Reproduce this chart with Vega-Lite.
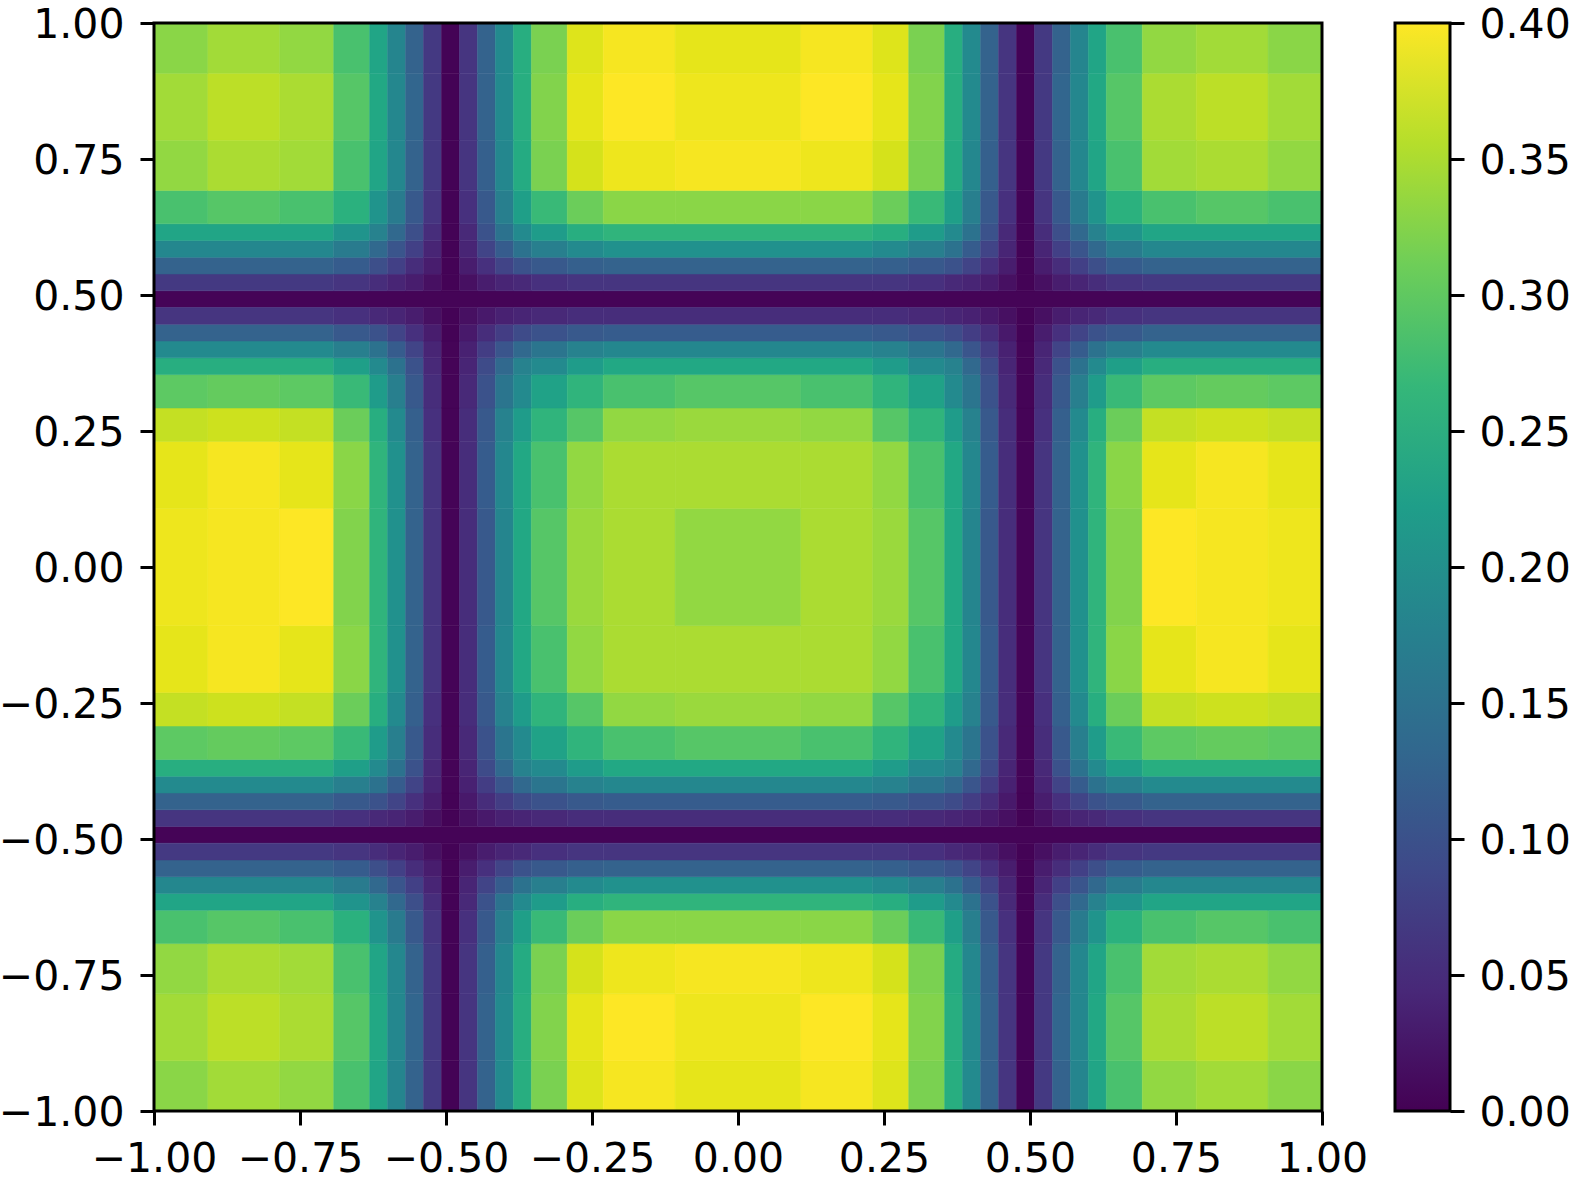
{"$schema":"https://vega.github.io/schema/vega-lite/v6.json","background":"white","padding":{"left":-2,"top":4,"right":0,"bottom":0},"bounds":"flush","spacing":73,"config":{"view":{"stroke":null},"axis":{"domain":false,"grid":false,"ticks":true,"tickColor":"black","tickWidth":3,"tickSize":14,"labelColor":"black","labelFont":"DejaVu Sans","labelFontSize":41,"labelOverlap":false,"labelFlush":false,"labelBound":false,"title":null}},"datasets":{"g":[{"c":1,"x0":-1,"x1":-0.9077},{"c":2,"x0":-0.9077,"x1":-0.7846},{"c":3,"x0":-0.7846,"x1":-0.6923},{"c":4,"x0":-0.6923,"x1":-0.6308},{"c":5,"x0":-0.6308,"x1":-0.6},{"c":6,"x0":-0.6,"x1":-0.5692},{"c":7,"x0":-0.5692,"x1":-0.5385},{"c":8,"x0":-0.5385,"x1":-0.5077},{"c":9,"x0":-0.5077,"x1":-0.4769},{"c":10,"x0":-0.4769,"x1":-0.4462},{"c":11,"x0":-0.4462,"x1":-0.4154},{"c":12,"x0":-0.4154,"x1":-0.3846},{"c":13,"x0":-0.3846,"x1":-0.3538},{"c":14,"x0":-0.3538,"x1":-0.2923},{"c":15,"x0":-0.2923,"x1":-0.2308},{"c":16,"x0":-0.2308,"x1":-0.1077},{"c":17,"x0":-0.1077,"x1":0.1077},{"c":18,"x0":0.1077,"x1":0.2308},{"c":19,"x0":0.2308,"x1":0.2923},{"c":20,"x0":0.2923,"x1":0.3538},{"c":21,"x0":0.3538,"x1":0.3846},{"c":22,"x0":0.3846,"x1":0.4154},{"c":23,"x0":0.4154,"x1":0.4462},{"c":24,"x0":0.4462,"x1":0.4769},{"c":25,"x0":0.4769,"x1":0.5077},{"c":26,"x0":0.5077,"x1":0.5385},{"c":27,"x0":0.5385,"x1":0.5692},{"c":28,"x0":0.5692,"x1":0.6},{"c":29,"x0":0.6,"x1":0.6308},{"c":30,"x0":0.6308,"x1":0.6923},{"c":31,"x0":0.6923,"x1":0.7846},{"c":32,"x0":0.7846,"x1":0.9077},{"c":33,"x0":0.9077,"x1":1},{"c":34,"x0":-1,"x1":1},{"c":35,"x0":-1,"x1":-0.6923},{"c":36,"x0":0.6923,"x1":1},{"c":37,"x0":-0.2308,"x1":0.2308}],"d":[
{"c":34,"r":9,"v":0.003},{"c":34,"r":25,"v":0.003},
{"c":1,"r":1,"v":0.33},{"c":2,"r":1,"v":0.345},{"c":3,"r":1,"v":0.335},{"c":4,"r":1,"v":0.285},{"c":5,"r":1,"v":0.235},{"c":6,"r":1,"v":0.18},{"c":7,"r":1,"v":0.125},{"c":8,"r":1,"v":0.065},{"c":9,"r":1,"v":0.002},{"c":10,"r":1,"v":0.06},{"c":11,"r":1,"v":0.125},{"c":12,"r":1,"v":0.19},{"c":13,"r":1,"v":0.25},{"c":14,"r":1,"v":0.32},{"c":15,"r":1,"v":0.38},{"c":16,"r":1,"v":0.395},{"c":17,"r":1,"v":0.385},{"c":18,"r":1,"v":0.395},{"c":19,"r":1,"v":0.38},{"c":20,"r":1,"v":0.32},{"c":21,"r":1,"v":0.25},{"c":22,"r":1,"v":0.19},{"c":23,"r":1,"v":0.125},{"c":24,"r":1,"v":0.06},{"c":25,"r":1,"v":0.002},{"c":26,"r":1,"v":0.065},{"c":27,"r":1,"v":0.125},{"c":28,"r":1,"v":0.18},{"c":29,"r":1,"v":0.235},{"c":30,"r":1,"v":0.285},{"c":31,"r":1,"v":0.335},{"c":32,"r":1,"v":0.345},{"c":33,"r":1,"v":0.33},
{"c":1,"r":2,"v":0.345},{"c":2,"r":2,"v":0.36},{"c":3,"r":2,"v":0.35},{"c":4,"r":2,"v":0.295},{"c":5,"r":2,"v":0.24},{"c":6,"r":2,"v":0.185},{"c":7,"r":2,"v":0.13},{"c":8,"r":2,"v":0.065},{"c":9,"r":2,"v":0.002},{"c":10,"r":2,"v":0.06},{"c":11,"r":2,"v":0.125},{"c":12,"r":2,"v":0.19},{"c":13,"r":2,"v":0.25},{"c":14,"r":2,"v":0.325},{"c":15,"r":2,"v":0.385},{"c":16,"r":2,"v":0.4},{"c":17,"r":2,"v":0.39},{"c":18,"r":2,"v":0.4},{"c":19,"r":2,"v":0.385},{"c":20,"r":2,"v":0.325},{"c":21,"r":2,"v":0.25},{"c":22,"r":2,"v":0.19},{"c":23,"r":2,"v":0.125},{"c":24,"r":2,"v":0.06},{"c":25,"r":2,"v":0.002},{"c":26,"r":2,"v":0.065},{"c":27,"r":2,"v":0.13},{"c":28,"r":2,"v":0.185},{"c":29,"r":2,"v":0.24},{"c":30,"r":2,"v":0.295},{"c":31,"r":2,"v":0.35},{"c":32,"r":2,"v":0.36},{"c":33,"r":2,"v":0.345},
{"c":1,"r":3,"v":0.335},{"c":2,"r":3,"v":0.35},{"c":3,"r":3,"v":0.345},{"c":4,"r":3,"v":0.285},{"c":5,"r":3,"v":0.235},{"c":6,"r":3,"v":0.185},{"c":7,"r":3,"v":0.125},{"c":8,"r":3,"v":0.065},{"c":9,"r":3,"v":0.002},{"c":10,"r":3,"v":0.06},{"c":11,"r":3,"v":0.12},{"c":12,"r":3,"v":0.185},{"c":13,"r":3,"v":0.245},{"c":14,"r":3,"v":0.32},{"c":15,"r":3,"v":0.375},{"c":16,"r":3,"v":0.39},{"c":17,"r":3,"v":0.395},{"c":18,"r":3,"v":0.39},{"c":19,"r":3,"v":0.375},{"c":20,"r":3,"v":0.32},{"c":21,"r":3,"v":0.245},{"c":22,"r":3,"v":0.185},{"c":23,"r":3,"v":0.12},{"c":24,"r":3,"v":0.06},{"c":25,"r":3,"v":0.002},{"c":26,"r":3,"v":0.065},{"c":27,"r":3,"v":0.125},{"c":28,"r":3,"v":0.185},{"c":29,"r":3,"v":0.235},{"c":30,"r":3,"v":0.285},{"c":31,"r":3,"v":0.345},{"c":32,"r":3,"v":0.35},{"c":33,"r":3,"v":0.335},
{"c":1,"r":4,"v":0.285},{"c":2,"r":4,"v":0.295},{"c":3,"r":4,"v":0.285},{"c":4,"r":4,"v":0.255},{"c":5,"r":4,"v":0.205},{"c":6,"r":4,"v":0.165},{"c":7,"r":4,"v":0.11},{"c":8,"r":4,"v":0.06},{"c":9,"r":4,"v":0.002},{"c":10,"r":4,"v":0.055},{"c":11,"r":4,"v":0.11},{"c":12,"r":4,"v":0.17},{"c":13,"r":4,"v":0.225},{"c":14,"r":4,"v":0.27},{"c":15,"r":4,"v":0.31},{"c":16,"r":4,"v":0.33},{"c":17,"r":4,"v":0.33},{"c":18,"r":4,"v":0.33},{"c":19,"r":4,"v":0.31},{"c":20,"r":4,"v":0.27},{"c":21,"r":4,"v":0.225},{"c":22,"r":4,"v":0.17},{"c":23,"r":4,"v":0.11},{"c":24,"r":4,"v":0.055},{"c":25,"r":4,"v":0.002},{"c":26,"r":4,"v":0.06},{"c":27,"r":4,"v":0.11},{"c":28,"r":4,"v":0.165},{"c":29,"r":4,"v":0.205},{"c":30,"r":4,"v":0.255},{"c":31,"r":4,"v":0.285},{"c":32,"r":4,"v":0.295},{"c":33,"r":4,"v":0.285},
{"c":35,"r":5,"v":0.235},{"c":4,"r":5,"v":0.205},{"c":5,"r":5,"v":0.175},{"c":6,"r":5,"v":0.135},{"c":7,"r":5,"v":0.095},{"c":8,"r":5,"v":0.05},{"c":9,"r":5,"v":0.002},{"c":10,"r":5,"v":0.045},{"c":11,"r":5,"v":0.1},{"c":12,"r":5,"v":0.15},{"c":13,"r":5,"v":0.19},{"c":14,"r":5,"v":0.22},{"c":15,"r":5,"v":0.25},{"c":37,"r":5,"v":0.26},{"c":19,"r":5,"v":0.25},{"c":20,"r":5,"v":0.22},{"c":21,"r":5,"v":0.19},{"c":22,"r":5,"v":0.15},{"c":23,"r":5,"v":0.1},{"c":24,"r":5,"v":0.045},{"c":25,"r":5,"v":0.002},{"c":26,"r":5,"v":0.05},{"c":27,"r":5,"v":0.095},{"c":28,"r":5,"v":0.135},{"c":29,"r":5,"v":0.175},{"c":30,"r":5,"v":0.205},{"c":36,"r":5,"v":0.235},
{"c":35,"r":6,"v":0.185},{"c":4,"r":6,"v":0.165},{"c":5,"r":6,"v":0.135},{"c":6,"r":6,"v":0.105},{"c":7,"r":6,"v":0.075},{"c":8,"r":6,"v":0.04},{"c":9,"r":6,"v":0.002},{"c":10,"r":6,"v":0.04},{"c":11,"r":6,"v":0.08},{"c":12,"r":6,"v":0.115},{"c":13,"r":6,"v":0.15},{"c":14,"r":6,"v":0.17},{"c":15,"r":6,"v":0.19},{"c":37,"r":6,"v":0.2},{"c":19,"r":6,"v":0.19},{"c":20,"r":6,"v":0.17},{"c":21,"r":6,"v":0.15},{"c":22,"r":6,"v":0.115},{"c":23,"r":6,"v":0.08},{"c":24,"r":6,"v":0.04},{"c":25,"r":6,"v":0.002},{"c":26,"r":6,"v":0.04},{"c":27,"r":6,"v":0.075},{"c":28,"r":6,"v":0.105},{"c":29,"r":6,"v":0.135},{"c":30,"r":6,"v":0.165},{"c":36,"r":6,"v":0.185},
{"c":35,"r":7,"v":0.125},{"c":4,"r":7,"v":0.115},{"c":5,"r":7,"v":0.095},{"c":6,"r":7,"v":0.075},{"c":7,"r":7,"v":0.05},{"c":8,"r":7,"v":0.03},{"c":9,"r":7,"v":0.002},{"c":10,"r":7,"v":0.03},{"c":11,"r":7,"v":0.055},{"c":12,"r":7,"v":0.08},{"c":13,"r":7,"v":0.1},{"c":14,"r":7,"v":0.11},{"c":15,"r":7,"v":0.12},{"c":37,"r":7,"v":0.125},{"c":19,"r":7,"v":0.12},{"c":20,"r":7,"v":0.11},{"c":21,"r":7,"v":0.1},{"c":22,"r":7,"v":0.08},{"c":23,"r":7,"v":0.055},{"c":24,"r":7,"v":0.03},{"c":25,"r":7,"v":0.002},{"c":26,"r":7,"v":0.03},{"c":27,"r":7,"v":0.05},{"c":28,"r":7,"v":0.075},{"c":29,"r":7,"v":0.095},{"c":30,"r":7,"v":0.115},{"c":36,"r":7,"v":0.125},
{"c":35,"r":8,"v":0.065},{"c":4,"r":8,"v":0.06},{"c":5,"r":8,"v":0.05},{"c":6,"r":8,"v":0.04},{"c":7,"r":8,"v":0.03},{"c":8,"r":8,"v":0.015},{"c":9,"r":8,"v":0.002},{"c":10,"r":8,"v":0.015},{"c":11,"r":8,"v":0.03},{"c":12,"r":8,"v":0.04},{"c":13,"r":8,"v":0.045},{"c":14,"r":8,"v":0.055},{"c":15,"r":8,"v":0.06},{"c":37,"r":8,"v":0.06},{"c":19,"r":8,"v":0.06},{"c":20,"r":8,"v":0.055},{"c":21,"r":8,"v":0.045},{"c":22,"r":8,"v":0.04},{"c":23,"r":8,"v":0.03},{"c":24,"r":8,"v":0.015},{"c":25,"r":8,"v":0.002},{"c":26,"r":8,"v":0.015},{"c":27,"r":8,"v":0.03},{"c":28,"r":8,"v":0.04},{"c":29,"r":8,"v":0.05},{"c":30,"r":8,"v":0.06},{"c":36,"r":8,"v":0.065},
{"c":35,"r":10,"v":0.06},{"c":4,"r":10,"v":0.055},{"c":5,"r":10,"v":0.045},{"c":6,"r":10,"v":0.04},{"c":7,"r":10,"v":0.03},{"c":8,"r":10,"v":0.015},{"c":9,"r":10,"v":0.002},{"c":10,"r":10,"v":0.015},{"c":11,"r":10,"v":0.025},{"c":12,"r":10,"v":0.035},{"c":13,"r":10,"v":0.04},{"c":14,"r":10,"v":0.045},{"c":15,"r":10,"v":0.05},{"c":37,"r":10,"v":0.05},{"c":19,"r":10,"v":0.05},{"c":20,"r":10,"v":0.045},{"c":21,"r":10,"v":0.04},{"c":22,"r":10,"v":0.035},{"c":23,"r":10,"v":0.025},{"c":24,"r":10,"v":0.015},{"c":25,"r":10,"v":0.002},{"c":26,"r":10,"v":0.015},{"c":27,"r":10,"v":0.03},{"c":28,"r":10,"v":0.04},{"c":29,"r":10,"v":0.045},{"c":30,"r":10,"v":0.055},{"c":36,"r":10,"v":0.06},
{"c":35,"r":11,"v":0.125},{"c":4,"r":11,"v":0.11},{"c":5,"r":11,"v":0.1},{"c":6,"r":11,"v":0.08},{"c":7,"r":11,"v":0.055},{"c":8,"r":11,"v":0.03},{"c":9,"r":11,"v":0.002},{"c":10,"r":11,"v":0.025},{"c":11,"r":11,"v":0.05},{"c":12,"r":11,"v":0.07},{"c":13,"r":11,"v":0.09},{"c":14,"r":11,"v":0.1},{"c":15,"r":11,"v":0.11},{"c":37,"r":11,"v":0.115},{"c":19,"r":11,"v":0.11},{"c":20,"r":11,"v":0.1},{"c":21,"r":11,"v":0.09},{"c":22,"r":11,"v":0.07},{"c":23,"r":11,"v":0.05},{"c":24,"r":11,"v":0.025},{"c":25,"r":11,"v":0.002},{"c":26,"r":11,"v":0.03},{"c":27,"r":11,"v":0.055},{"c":28,"r":11,"v":0.08},{"c":29,"r":11,"v":0.1},{"c":30,"r":11,"v":0.11},{"c":36,"r":11,"v":0.125},
{"c":35,"r":12,"v":0.19},{"c":4,"r":12,"v":0.17},{"c":5,"r":12,"v":0.15},{"c":6,"r":12,"v":0.115},{"c":7,"r":12,"v":0.08},{"c":8,"r":12,"v":0.04},{"c":9,"r":12,"v":0.003},{"c":10,"r":12,"v":0.035},{"c":11,"r":12,"v":0.07},{"c":12,"r":12,"v":0.105},{"c":13,"r":12,"v":0.135},{"c":14,"r":12,"v":0.155},{"c":15,"r":12,"v":0.175},{"c":37,"r":12,"v":0.185},{"c":19,"r":12,"v":0.175},{"c":20,"r":12,"v":0.155},{"c":21,"r":12,"v":0.135},{"c":22,"r":12,"v":0.105},{"c":23,"r":12,"v":0.07},{"c":24,"r":12,"v":0.035},{"c":25,"r":12,"v":0.003},{"c":26,"r":12,"v":0.04},{"c":27,"r":12,"v":0.08},{"c":28,"r":12,"v":0.115},{"c":29,"r":12,"v":0.15},{"c":30,"r":12,"v":0.17},{"c":36,"r":12,"v":0.19},
{"c":35,"r":13,"v":0.25},{"c":4,"r":13,"v":0.225},{"c":5,"r":13,"v":0.19},{"c":6,"r":13,"v":0.15},{"c":7,"r":13,"v":0.1},{"c":8,"r":13,"v":0.045},{"c":9,"r":13,"v":0.003},{"c":10,"r":13,"v":0.04},{"c":11,"r":13,"v":0.09},{"c":12,"r":13,"v":0.135},{"c":13,"r":13,"v":0.175},{"c":14,"r":13,"v":0.19},{"c":15,"r":13,"v":0.22},{"c":37,"r":13,"v":0.24},{"c":19,"r":13,"v":0.22},{"c":20,"r":13,"v":0.19},{"c":21,"r":13,"v":0.175},{"c":22,"r":13,"v":0.135},{"c":23,"r":13,"v":0.09},{"c":24,"r":13,"v":0.04},{"c":25,"r":13,"v":0.003},{"c":26,"r":13,"v":0.045},{"c":27,"r":13,"v":0.1},{"c":28,"r":13,"v":0.15},{"c":29,"r":13,"v":0.19},{"c":30,"r":13,"v":0.225},{"c":36,"r":13,"v":0.25},
{"c":1,"r":14,"v":0.3},{"c":2,"r":14,"v":0.305},{"c":3,"r":14,"v":0.3},{"c":4,"r":14,"v":0.27},{"c":5,"r":14,"v":0.22},{"c":6,"r":14,"v":0.17},{"c":7,"r":14,"v":0.11},{"c":8,"r":14,"v":0.05},{"c":9,"r":14,"v":0.003},{"c":10,"r":14,"v":0.045},{"c":11,"r":14,"v":0.1},{"c":12,"r":14,"v":0.155},{"c":13,"r":14,"v":0.19},{"c":14,"r":14,"v":0.23},{"c":15,"r":14,"v":0.26},{"c":16,"r":14,"v":0.285},{"c":17,"r":14,"v":0.295},{"c":18,"r":14,"v":0.285},{"c":19,"r":14,"v":0.26},{"c":20,"r":14,"v":0.23},{"c":21,"r":14,"v":0.19},{"c":22,"r":14,"v":0.155},{"c":23,"r":14,"v":0.1},{"c":24,"r":14,"v":0.045},{"c":25,"r":14,"v":0.003},{"c":26,"r":14,"v":0.05},{"c":27,"r":14,"v":0.11},{"c":28,"r":14,"v":0.17},{"c":29,"r":14,"v":0.22},{"c":30,"r":14,"v":0.27},{"c":31,"r":14,"v":0.3},{"c":32,"r":14,"v":0.305},{"c":33,"r":14,"v":0.3},
{"c":1,"r":15,"v":0.365},{"c":2,"r":15,"v":0.37},{"c":3,"r":15,"v":0.365},{"c":4,"r":15,"v":0.31},{"c":5,"r":15,"v":0.25},{"c":6,"r":15,"v":0.19},{"c":7,"r":15,"v":0.12},{"c":8,"r":15,"v":0.055},{"c":9,"r":15,"v":0.003},{"c":10,"r":15,"v":0.05},{"c":11,"r":15,"v":0.11},{"c":12,"r":15,"v":0.175},{"c":13,"r":15,"v":0.22},{"c":14,"r":15,"v":0.26},{"c":15,"r":15,"v":0.295},{"c":16,"r":15,"v":0.335},{"c":17,"r":15,"v":0.34},{"c":18,"r":15,"v":0.335},{"c":19,"r":15,"v":0.295},{"c":20,"r":15,"v":0.26},{"c":21,"r":15,"v":0.22},{"c":22,"r":15,"v":0.175},{"c":23,"r":15,"v":0.11},{"c":24,"r":15,"v":0.05},{"c":25,"r":15,"v":0.003},{"c":26,"r":15,"v":0.055},{"c":27,"r":15,"v":0.12},{"c":28,"r":15,"v":0.19},{"c":29,"r":15,"v":0.25},{"c":30,"r":15,"v":0.31},{"c":31,"r":15,"v":0.365},{"c":32,"r":15,"v":0.37},{"c":33,"r":15,"v":0.365},
{"c":1,"r":16,"v":0.385},{"c":2,"r":16,"v":0.395},{"c":3,"r":16,"v":0.385},{"c":4,"r":16,"v":0.33},{"c":5,"r":16,"v":0.26},{"c":6,"r":16,"v":0.2},{"c":7,"r":16,"v":0.125},{"c":8,"r":16,"v":0.06},{"c":9,"r":16,"v":0.003},{"c":10,"r":16,"v":0.05},{"c":11,"r":16,"v":0.115},{"c":12,"r":16,"v":0.185},{"c":13,"r":16,"v":0.24},{"c":14,"r":16,"v":0.285},{"c":15,"r":16,"v":0.335},{"c":16,"r":16,"v":0.35},{"c":17,"r":16,"v":0.35},{"c":18,"r":16,"v":0.35},{"c":19,"r":16,"v":0.335},{"c":20,"r":16,"v":0.285},{"c":21,"r":16,"v":0.24},{"c":22,"r":16,"v":0.185},{"c":23,"r":16,"v":0.115},{"c":24,"r":16,"v":0.05},{"c":25,"r":16,"v":0.003},{"c":26,"r":16,"v":0.06},{"c":27,"r":16,"v":0.125},{"c":28,"r":16,"v":0.2},{"c":29,"r":16,"v":0.26},{"c":30,"r":16,"v":0.33},{"c":31,"r":16,"v":0.385},{"c":32,"r":16,"v":0.395},{"c":33,"r":16,"v":0.385},
{"c":1,"r":17,"v":0.39},{"c":2,"r":17,"v":0.395},{"c":3,"r":17,"v":0.4},{"c":4,"r":17,"v":0.325},{"c":5,"r":17,"v":0.26},{"c":6,"r":17,"v":0.2},{"c":7,"r":17,"v":0.125},{"c":8,"r":17,"v":0.06},{"c":9,"r":17,"v":0.003},{"c":10,"r":17,"v":0.05},{"c":11,"r":17,"v":0.11},{"c":12,"r":17,"v":0.18},{"c":13,"r":17,"v":0.24},{"c":14,"r":17,"v":0.295},{"c":15,"r":17,"v":0.34},{"c":16,"r":17,"v":0.35},{"c":17,"r":17,"v":0.335},{"c":18,"r":17,"v":0.35},{"c":19,"r":17,"v":0.34},{"c":20,"r":17,"v":0.295},{"c":21,"r":17,"v":0.24},{"c":22,"r":17,"v":0.18},{"c":23,"r":17,"v":0.11},{"c":24,"r":17,"v":0.05},{"c":25,"r":17,"v":0.003},{"c":26,"r":17,"v":0.06},{"c":27,"r":17,"v":0.125},{"c":28,"r":17,"v":0.2},{"c":29,"r":17,"v":0.26},{"c":30,"r":17,"v":0.325},{"c":31,"r":17,"v":0.4},{"c":32,"r":17,"v":0.395},{"c":33,"r":17,"v":0.39},
{"c":1,"r":18,"v":0.385},{"c":2,"r":18,"v":0.395},{"c":3,"r":18,"v":0.385},{"c":4,"r":18,"v":0.33},{"c":5,"r":18,"v":0.26},{"c":6,"r":18,"v":0.2},{"c":7,"r":18,"v":0.125},{"c":8,"r":18,"v":0.06},{"c":9,"r":18,"v":0.003},{"c":10,"r":18,"v":0.05},{"c":11,"r":18,"v":0.115},{"c":12,"r":18,"v":0.185},{"c":13,"r":18,"v":0.24},{"c":14,"r":18,"v":0.285},{"c":15,"r":18,"v":0.335},{"c":16,"r":18,"v":0.35},{"c":17,"r":18,"v":0.35},{"c":18,"r":18,"v":0.35},{"c":19,"r":18,"v":0.335},{"c":20,"r":18,"v":0.285},{"c":21,"r":18,"v":0.24},{"c":22,"r":18,"v":0.185},{"c":23,"r":18,"v":0.115},{"c":24,"r":18,"v":0.05},{"c":25,"r":18,"v":0.003},{"c":26,"r":18,"v":0.06},{"c":27,"r":18,"v":0.125},{"c":28,"r":18,"v":0.2},{"c":29,"r":18,"v":0.26},{"c":30,"r":18,"v":0.33},{"c":31,"r":18,"v":0.385},{"c":32,"r":18,"v":0.395},{"c":33,"r":18,"v":0.385},
{"c":1,"r":19,"v":0.365},{"c":2,"r":19,"v":0.37},{"c":3,"r":19,"v":0.365},{"c":4,"r":19,"v":0.31},{"c":5,"r":19,"v":0.25},{"c":6,"r":19,"v":0.19},{"c":7,"r":19,"v":0.12},{"c":8,"r":19,"v":0.055},{"c":9,"r":19,"v":0.003},{"c":10,"r":19,"v":0.05},{"c":11,"r":19,"v":0.11},{"c":12,"r":19,"v":0.175},{"c":13,"r":19,"v":0.22},{"c":14,"r":19,"v":0.26},{"c":15,"r":19,"v":0.295},{"c":16,"r":19,"v":0.335},{"c":17,"r":19,"v":0.34},{"c":18,"r":19,"v":0.335},{"c":19,"r":19,"v":0.295},{"c":20,"r":19,"v":0.26},{"c":21,"r":19,"v":0.22},{"c":22,"r":19,"v":0.175},{"c":23,"r":19,"v":0.11},{"c":24,"r":19,"v":0.05},{"c":25,"r":19,"v":0.003},{"c":26,"r":19,"v":0.055},{"c":27,"r":19,"v":0.12},{"c":28,"r":19,"v":0.19},{"c":29,"r":19,"v":0.25},{"c":30,"r":19,"v":0.31},{"c":31,"r":19,"v":0.365},{"c":32,"r":19,"v":0.37},{"c":33,"r":19,"v":0.365},
{"c":1,"r":20,"v":0.3},{"c":2,"r":20,"v":0.305},{"c":3,"r":20,"v":0.3},{"c":4,"r":20,"v":0.27},{"c":5,"r":20,"v":0.22},{"c":6,"r":20,"v":0.17},{"c":7,"r":20,"v":0.11},{"c":8,"r":20,"v":0.05},{"c":9,"r":20,"v":0.003},{"c":10,"r":20,"v":0.045},{"c":11,"r":20,"v":0.1},{"c":12,"r":20,"v":0.155},{"c":13,"r":20,"v":0.19},{"c":14,"r":20,"v":0.23},{"c":15,"r":20,"v":0.26},{"c":16,"r":20,"v":0.285},{"c":17,"r":20,"v":0.295},{"c":18,"r":20,"v":0.285},{"c":19,"r":20,"v":0.26},{"c":20,"r":20,"v":0.23},{"c":21,"r":20,"v":0.19},{"c":22,"r":20,"v":0.155},{"c":23,"r":20,"v":0.1},{"c":24,"r":20,"v":0.045},{"c":25,"r":20,"v":0.003},{"c":26,"r":20,"v":0.05},{"c":27,"r":20,"v":0.11},{"c":28,"r":20,"v":0.17},{"c":29,"r":20,"v":0.22},{"c":30,"r":20,"v":0.27},{"c":31,"r":20,"v":0.3},{"c":32,"r":20,"v":0.305},{"c":33,"r":20,"v":0.3},
{"c":35,"r":21,"v":0.25},{"c":4,"r":21,"v":0.225},{"c":5,"r":21,"v":0.19},{"c":6,"r":21,"v":0.15},{"c":7,"r":21,"v":0.1},{"c":8,"r":21,"v":0.045},{"c":9,"r":21,"v":0.003},{"c":10,"r":21,"v":0.04},{"c":11,"r":21,"v":0.09},{"c":12,"r":21,"v":0.135},{"c":13,"r":21,"v":0.175},{"c":14,"r":21,"v":0.19},{"c":15,"r":21,"v":0.22},{"c":37,"r":21,"v":0.24},{"c":19,"r":21,"v":0.22},{"c":20,"r":21,"v":0.19},{"c":21,"r":21,"v":0.175},{"c":22,"r":21,"v":0.135},{"c":23,"r":21,"v":0.09},{"c":24,"r":21,"v":0.04},{"c":25,"r":21,"v":0.003},{"c":26,"r":21,"v":0.045},{"c":27,"r":21,"v":0.1},{"c":28,"r":21,"v":0.15},{"c":29,"r":21,"v":0.19},{"c":30,"r":21,"v":0.225},{"c":36,"r":21,"v":0.25},
{"c":35,"r":22,"v":0.19},{"c":4,"r":22,"v":0.17},{"c":5,"r":22,"v":0.15},{"c":6,"r":22,"v":0.115},{"c":7,"r":22,"v":0.08},{"c":8,"r":22,"v":0.04},{"c":9,"r":22,"v":0.003},{"c":10,"r":22,"v":0.035},{"c":11,"r":22,"v":0.07},{"c":12,"r":22,"v":0.105},{"c":13,"r":22,"v":0.135},{"c":14,"r":22,"v":0.155},{"c":15,"r":22,"v":0.175},{"c":37,"r":22,"v":0.185},{"c":19,"r":22,"v":0.175},{"c":20,"r":22,"v":0.155},{"c":21,"r":22,"v":0.135},{"c":22,"r":22,"v":0.105},{"c":23,"r":22,"v":0.07},{"c":24,"r":22,"v":0.035},{"c":25,"r":22,"v":0.003},{"c":26,"r":22,"v":0.04},{"c":27,"r":22,"v":0.08},{"c":28,"r":22,"v":0.115},{"c":29,"r":22,"v":0.15},{"c":30,"r":22,"v":0.17},{"c":36,"r":22,"v":0.19},
{"c":35,"r":23,"v":0.125},{"c":4,"r":23,"v":0.11},{"c":5,"r":23,"v":0.1},{"c":6,"r":23,"v":0.08},{"c":7,"r":23,"v":0.055},{"c":8,"r":23,"v":0.03},{"c":9,"r":23,"v":0.002},{"c":10,"r":23,"v":0.025},{"c":11,"r":23,"v":0.05},{"c":12,"r":23,"v":0.07},{"c":13,"r":23,"v":0.09},{"c":14,"r":23,"v":0.1},{"c":15,"r":23,"v":0.11},{"c":37,"r":23,"v":0.115},{"c":19,"r":23,"v":0.11},{"c":20,"r":23,"v":0.1},{"c":21,"r":23,"v":0.09},{"c":22,"r":23,"v":0.07},{"c":23,"r":23,"v":0.05},{"c":24,"r":23,"v":0.025},{"c":25,"r":23,"v":0.002},{"c":26,"r":23,"v":0.03},{"c":27,"r":23,"v":0.055},{"c":28,"r":23,"v":0.08},{"c":29,"r":23,"v":0.1},{"c":30,"r":23,"v":0.11},{"c":36,"r":23,"v":0.125},
{"c":35,"r":24,"v":0.06},{"c":4,"r":24,"v":0.055},{"c":5,"r":24,"v":0.045},{"c":6,"r":24,"v":0.04},{"c":7,"r":24,"v":0.03},{"c":8,"r":24,"v":0.015},{"c":9,"r":24,"v":0.002},{"c":10,"r":24,"v":0.015},{"c":11,"r":24,"v":0.025},{"c":12,"r":24,"v":0.035},{"c":13,"r":24,"v":0.04},{"c":14,"r":24,"v":0.045},{"c":15,"r":24,"v":0.05},{"c":37,"r":24,"v":0.05},{"c":19,"r":24,"v":0.05},{"c":20,"r":24,"v":0.045},{"c":21,"r":24,"v":0.04},{"c":22,"r":24,"v":0.035},{"c":23,"r":24,"v":0.025},{"c":24,"r":24,"v":0.015},{"c":25,"r":24,"v":0.002},{"c":26,"r":24,"v":0.015},{"c":27,"r":24,"v":0.03},{"c":28,"r":24,"v":0.04},{"c":29,"r":24,"v":0.045},{"c":30,"r":24,"v":0.055},{"c":36,"r":24,"v":0.06},
{"c":35,"r":26,"v":0.065},{"c":4,"r":26,"v":0.06},{"c":5,"r":26,"v":0.05},{"c":6,"r":26,"v":0.04},{"c":7,"r":26,"v":0.03},{"c":8,"r":26,"v":0.015},{"c":9,"r":26,"v":0.002},{"c":10,"r":26,"v":0.015},{"c":11,"r":26,"v":0.03},{"c":12,"r":26,"v":0.04},{"c":13,"r":26,"v":0.045},{"c":14,"r":26,"v":0.055},{"c":15,"r":26,"v":0.06},{"c":37,"r":26,"v":0.06},{"c":19,"r":26,"v":0.06},{"c":20,"r":26,"v":0.055},{"c":21,"r":26,"v":0.045},{"c":22,"r":26,"v":0.04},{"c":23,"r":26,"v":0.03},{"c":24,"r":26,"v":0.015},{"c":25,"r":26,"v":0.002},{"c":26,"r":26,"v":0.015},{"c":27,"r":26,"v":0.03},{"c":28,"r":26,"v":0.04},{"c":29,"r":26,"v":0.05},{"c":30,"r":26,"v":0.06},{"c":36,"r":26,"v":0.065},
{"c":35,"r":27,"v":0.125},{"c":4,"r":27,"v":0.115},{"c":5,"r":27,"v":0.095},{"c":6,"r":27,"v":0.075},{"c":7,"r":27,"v":0.05},{"c":8,"r":27,"v":0.03},{"c":9,"r":27,"v":0.002},{"c":10,"r":27,"v":0.03},{"c":11,"r":27,"v":0.055},{"c":12,"r":27,"v":0.08},{"c":13,"r":27,"v":0.1},{"c":14,"r":27,"v":0.11},{"c":15,"r":27,"v":0.12},{"c":37,"r":27,"v":0.125},{"c":19,"r":27,"v":0.12},{"c":20,"r":27,"v":0.11},{"c":21,"r":27,"v":0.1},{"c":22,"r":27,"v":0.08},{"c":23,"r":27,"v":0.055},{"c":24,"r":27,"v":0.03},{"c":25,"r":27,"v":0.002},{"c":26,"r":27,"v":0.03},{"c":27,"r":27,"v":0.05},{"c":28,"r":27,"v":0.075},{"c":29,"r":27,"v":0.095},{"c":30,"r":27,"v":0.115},{"c":36,"r":27,"v":0.125},
{"c":35,"r":28,"v":0.185},{"c":4,"r":28,"v":0.165},{"c":5,"r":28,"v":0.135},{"c":6,"r":28,"v":0.105},{"c":7,"r":28,"v":0.075},{"c":8,"r":28,"v":0.04},{"c":9,"r":28,"v":0.002},{"c":10,"r":28,"v":0.04},{"c":11,"r":28,"v":0.08},{"c":12,"r":28,"v":0.115},{"c":13,"r":28,"v":0.15},{"c":14,"r":28,"v":0.17},{"c":15,"r":28,"v":0.19},{"c":37,"r":28,"v":0.2},{"c":19,"r":28,"v":0.19},{"c":20,"r":28,"v":0.17},{"c":21,"r":28,"v":0.15},{"c":22,"r":28,"v":0.115},{"c":23,"r":28,"v":0.08},{"c":24,"r":28,"v":0.04},{"c":25,"r":28,"v":0.002},{"c":26,"r":28,"v":0.04},{"c":27,"r":28,"v":0.075},{"c":28,"r":28,"v":0.105},{"c":29,"r":28,"v":0.135},{"c":30,"r":28,"v":0.165},{"c":36,"r":28,"v":0.185},
{"c":35,"r":29,"v":0.235},{"c":4,"r":29,"v":0.205},{"c":5,"r":29,"v":0.175},{"c":6,"r":29,"v":0.135},{"c":7,"r":29,"v":0.095},{"c":8,"r":29,"v":0.05},{"c":9,"r":29,"v":0.002},{"c":10,"r":29,"v":0.045},{"c":11,"r":29,"v":0.1},{"c":12,"r":29,"v":0.15},{"c":13,"r":29,"v":0.19},{"c":14,"r":29,"v":0.22},{"c":15,"r":29,"v":0.25},{"c":37,"r":29,"v":0.26},{"c":19,"r":29,"v":0.25},{"c":20,"r":29,"v":0.22},{"c":21,"r":29,"v":0.19},{"c":22,"r":29,"v":0.15},{"c":23,"r":29,"v":0.1},{"c":24,"r":29,"v":0.045},{"c":25,"r":29,"v":0.002},{"c":26,"r":29,"v":0.05},{"c":27,"r":29,"v":0.095},{"c":28,"r":29,"v":0.135},{"c":29,"r":29,"v":0.175},{"c":30,"r":29,"v":0.205},{"c":36,"r":29,"v":0.235},
{"c":1,"r":30,"v":0.285},{"c":2,"r":30,"v":0.295},{"c":3,"r":30,"v":0.285},{"c":4,"r":30,"v":0.255},{"c":5,"r":30,"v":0.205},{"c":6,"r":30,"v":0.165},{"c":7,"r":30,"v":0.11},{"c":8,"r":30,"v":0.06},{"c":9,"r":30,"v":0.002},{"c":10,"r":30,"v":0.055},{"c":11,"r":30,"v":0.11},{"c":12,"r":30,"v":0.17},{"c":13,"r":30,"v":0.225},{"c":14,"r":30,"v":0.27},{"c":15,"r":30,"v":0.31},{"c":16,"r":30,"v":0.33},{"c":17,"r":30,"v":0.33},{"c":18,"r":30,"v":0.33},{"c":19,"r":30,"v":0.31},{"c":20,"r":30,"v":0.27},{"c":21,"r":30,"v":0.225},{"c":22,"r":30,"v":0.17},{"c":23,"r":30,"v":0.11},{"c":24,"r":30,"v":0.055},{"c":25,"r":30,"v":0.002},{"c":26,"r":30,"v":0.06},{"c":27,"r":30,"v":0.11},{"c":28,"r":30,"v":0.165},{"c":29,"r":30,"v":0.205},{"c":30,"r":30,"v":0.255},{"c":31,"r":30,"v":0.285},{"c":32,"r":30,"v":0.295},{"c":33,"r":30,"v":0.285},
{"c":1,"r":31,"v":0.335},{"c":2,"r":31,"v":0.35},{"c":3,"r":31,"v":0.345},{"c":4,"r":31,"v":0.285},{"c":5,"r":31,"v":0.235},{"c":6,"r":31,"v":0.185},{"c":7,"r":31,"v":0.125},{"c":8,"r":31,"v":0.065},{"c":9,"r":31,"v":0.002},{"c":10,"r":31,"v":0.06},{"c":11,"r":31,"v":0.12},{"c":12,"r":31,"v":0.185},{"c":13,"r":31,"v":0.245},{"c":14,"r":31,"v":0.32},{"c":15,"r":31,"v":0.375},{"c":16,"r":31,"v":0.39},{"c":17,"r":31,"v":0.395},{"c":18,"r":31,"v":0.39},{"c":19,"r":31,"v":0.375},{"c":20,"r":31,"v":0.32},{"c":21,"r":31,"v":0.245},{"c":22,"r":31,"v":0.185},{"c":23,"r":31,"v":0.12},{"c":24,"r":31,"v":0.06},{"c":25,"r":31,"v":0.002},{"c":26,"r":31,"v":0.065},{"c":27,"r":31,"v":0.125},{"c":28,"r":31,"v":0.185},{"c":29,"r":31,"v":0.235},{"c":30,"r":31,"v":0.285},{"c":31,"r":31,"v":0.345},{"c":32,"r":31,"v":0.35},{"c":33,"r":31,"v":0.335},
{"c":1,"r":32,"v":0.345},{"c":2,"r":32,"v":0.36},{"c":3,"r":32,"v":0.35},{"c":4,"r":32,"v":0.295},{"c":5,"r":32,"v":0.24},{"c":6,"r":32,"v":0.185},{"c":7,"r":32,"v":0.13},{"c":8,"r":32,"v":0.065},{"c":9,"r":32,"v":0.002},{"c":10,"r":32,"v":0.06},{"c":11,"r":32,"v":0.125},{"c":12,"r":32,"v":0.19},{"c":13,"r":32,"v":0.25},{"c":14,"r":32,"v":0.325},{"c":15,"r":32,"v":0.385},{"c":16,"r":32,"v":0.4},{"c":17,"r":32,"v":0.39},{"c":18,"r":32,"v":0.4},{"c":19,"r":32,"v":0.385},{"c":20,"r":32,"v":0.325},{"c":21,"r":32,"v":0.25},{"c":22,"r":32,"v":0.19},{"c":23,"r":32,"v":0.125},{"c":24,"r":32,"v":0.06},{"c":25,"r":32,"v":0.002},{"c":26,"r":32,"v":0.065},{"c":27,"r":32,"v":0.13},{"c":28,"r":32,"v":0.185},{"c":29,"r":32,"v":0.24},{"c":30,"r":32,"v":0.295},{"c":31,"r":32,"v":0.35},{"c":32,"r":32,"v":0.36},{"c":33,"r":32,"v":0.345},
{"c":1,"r":33,"v":0.33},{"c":2,"r":33,"v":0.345},{"c":3,"r":33,"v":0.335},{"c":4,"r":33,"v":0.285},{"c":5,"r":33,"v":0.235},{"c":6,"r":33,"v":0.18},{"c":7,"r":33,"v":0.125},{"c":8,"r":33,"v":0.065},{"c":9,"r":33,"v":0.002},{"c":10,"r":33,"v":0.06},{"c":11,"r":33,"v":0.125},{"c":12,"r":33,"v":0.19},{"c":13,"r":33,"v":0.25},{"c":14,"r":33,"v":0.32},{"c":15,"r":33,"v":0.38},{"c":16,"r":33,"v":0.395},{"c":17,"r":33,"v":0.385},{"c":18,"r":33,"v":0.395},{"c":19,"r":33,"v":0.38},{"c":20,"r":33,"v":0.32},{"c":21,"r":33,"v":0.25},{"c":22,"r":33,"v":0.19},{"c":23,"r":33,"v":0.125},{"c":24,"r":33,"v":0.06},{"c":25,"r":33,"v":0.002},{"c":26,"r":33,"v":0.065},{"c":27,"r":33,"v":0.125},{"c":28,"r":33,"v":0.18},{"c":29,"r":33,"v":0.235},{"c":30,"r":33,"v":0.285},{"c":31,"r":33,"v":0.335},{"c":32,"r":33,"v":0.345},{"c":33,"r":33,"v":0.33}
]},"hconcat":[{"width":1168,"height":1088,"layer":[{"data":{"name":"d"},"transform":[{"lookup":"c","from":{"data":{"name":"g"},"key":"c","fields":["x0","x1"]}},{"lookup":"r","from":{"data":{"name":"g"},"key":"c","fields":["x0","x1"]},"as":["y0","y1"]}],"mark":{"type":"rect","strokeWidth":0.5},"encoding":{"x":{"field":"x0","type":"quantitative","scale":{"domain":[-1,1],"nice":false,"zero":false},"axis":{"values":[-1,-0.75,-0.5,-0.25,0,0.25,0.5,0.75,1],"format":".2f","labelPadding":14}},"x2":{"field":"x1"},"y":{"field":"y0","type":"quantitative","scale":{"domain":[-1,1],"nice":false,"zero":false},"axis":{"values":[-1,-0.75,-0.5,-0.25,0,0.25,0.5,0.75,1],"format":".2f","labelPadding":16,"labelOffset":2}},"y2":{"field":"y1"},"color":{"field":"v","type":"quantitative","scale":{"scheme":"viridis","domain":[0,0.4],"clamp":true},"legend":null},"stroke":{"field":"v","type":"quantitative","scale":{"scheme":"viridis","domain":[0,0.4],"clamp":true},"legend":null}}},{"data":{"values":[{"x0":-1,"x1":1,"y0":-1,"y1":1}]},"mark":{"type":"rect","fill":"transparent","stroke":"black","strokeWidth":3},"encoding":{"x":{"field":"x0","type":"quantitative"},"x2":{"field":"x1"},"y":{"field":"y0","type":"quantitative"},"y2":{"field":"y1"}}}]},{"width":55,"height":1088,"data":{"values":[{"lo":0,"hi":0.4}]},"layer":[{"mark":{"type":"rect","stroke":"black","strokeWidth":3,"fill":{"x1":0,"y1":1,"x2":0,"y2":0,"gradient":"linear","stops":[{"offset":0,"color":"#440154"},{"offset":0.111,"color":"#482878"},{"offset":0.222,"color":"#3e4989"},{"offset":0.333,"color":"#31688e"},{"offset":0.444,"color":"#26828e"},{"offset":0.556,"color":"#1f9e89"},{"offset":0.667,"color":"#35b779"},{"offset":0.778,"color":"#6ece58"},{"offset":0.889,"color":"#b5de2b"},{"offset":1,"color":"#fde725"}]}},"encoding":{"y":{"field":"lo","type":"quantitative","scale":{"domain":[0,0.4],"nice":false,"zero":false},"axis":{"orient":"right","values":[0,0.05,0.1,0.15,0.2,0.25,0.3,0.35,0.4],"format":".2f","labelPadding":15,"labelOffset":2}},"y2":{"field":"hi"}}}]}]}
